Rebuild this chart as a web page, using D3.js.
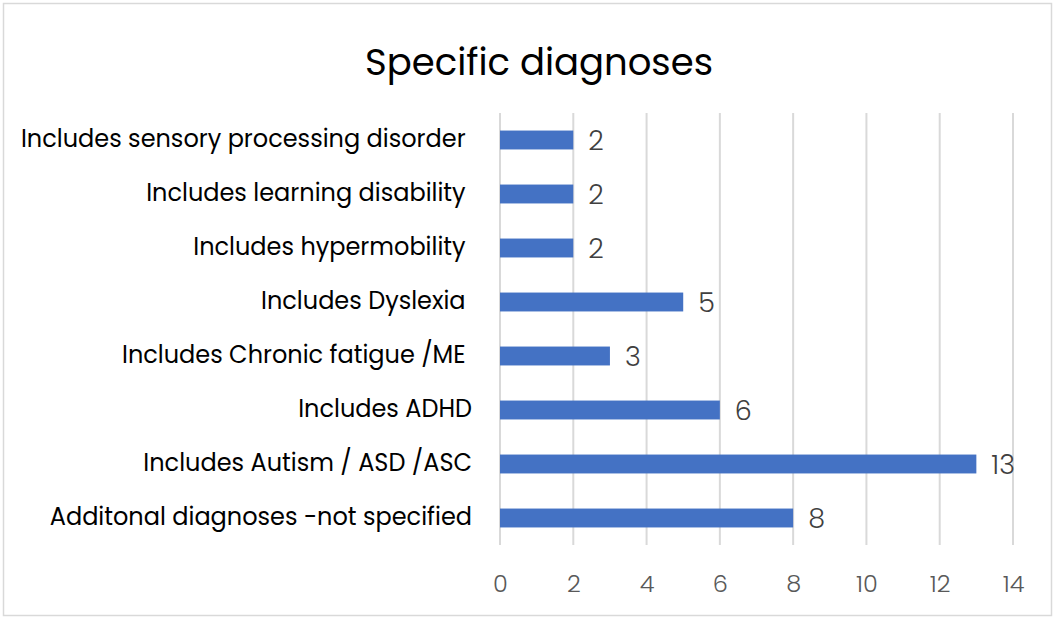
<!DOCTYPE html>
<html>
<head>
<meta charset="utf-8">
<script src="https://cdn.jsdelivr.net/npm/d3@7"></script>
<style>
  body { margin: 0; background: #fff; }
  text { font-family: "Poppins", "Noto Sans", sans-serif; white-space: pre; }
</style>
</head>
<body>
<script>
// chart data, top to bottom (some source labels carry a trailing space)
var categories = [
    "Includes sensory processing disorder ",
    "Includes learning disability ",
    "Includes hypermobility ",
    "Includes Dyslexia ",
    "Includes Chronic fatigue /ME ",
    "Includes ADHD",
    "Includes Autism / ASD /ASC",
    "Additonal diagnoses -not specified"
];
var counts = [2, 2, 2, 5, 3, 6, 13, 8];
var xTicks = [0, 2, 4, 6, 8, 10, 12, 14];
var title = "Specific diagnoses";

var width = 1054, height = 618;
var margin = { top: 113, right: 41, bottom: 73, left: 500 };

var data = categories.map((c, i) => ({ name: c, value: counts[i] }));

var svg = d3.select("body").append("svg")
    .attr("width", width)
    .attr("height", height);

// outer frame
svg.append("rect")
    .attr("x", 3.5).attr("y", 3.5)
    .attr("width", 1048).attr("height", 612)
    .attr("fill", "#fff")
    .attr("stroke", "#d9d9d9")
    .attr("stroke-width", 1.5);

var x = d3.scaleLinear()
    .domain([0, 14])
    .range([margin.left, width - margin.right]);

var y = d3.scaleBand()
    .domain(categories)
    .range([margin.top, height - margin.bottom])
    .paddingInner(0.65)
    .paddingOuter(0.325);

// grid
svg.append("g")
    .selectAll("line")
    .data(xTicks)
    .join("line")
    .attr("x1", d => x(d)).attr("x2", d => x(d))
    .attr("y1", margin.top).attr("y2", height - margin.bottom)
    .attr("stroke", "#d9d9d9")
    .attr("stroke-width", 2);

// x axis
var xAxis = svg.append("g")
    .attr("transform", `translate(0,${height - margin.bottom})`)
    .call(d3.axisBottom(x).tickValues(xTicks).tickSize(0).tickPadding(30));
xAxis.select(".domain").remove();
xAxis.selectAll("text")
    .attr("fill", "#595959")
    .attr("font-size", 24)
    .attr("font-weight", 300)
    .style("font-family", "\"Poppins\", \"Noto Sans\", sans-serif");

// y axis labels
var yAxis = svg.append("g")
    .attr("transform", `translate(${margin.left},0)`)
    .call(d3.axisLeft(y).tickSize(0).tickPadding(28));
yAxis.select(".domain").remove();
yAxis.selectAll("text")
    .attr("fill", "#000")
    .attr("font-size", 24)
    .attr("dy", "0.3em")
    .style("font-family", "\"Poppins\", \"Noto Sans\", sans-serif");

// bars
svg.append("g")
    .selectAll("rect")
    .data(data)
    .join("rect")
    .attr("x", x(0))
    .attr("y", d => y(d.name))
    .attr("width", d => x(d.value) - x(0))
    .attr("height", y.bandwidth())
    .attr("fill", "#4472c4");

// value labels
svg.append("g")
    .selectAll("text")
    .data(data)
    .join("text")
    .attr("x", d => x(d.value) + 15)
    .attr("y", d => y(d.name) + y.bandwidth() / 2)
    .attr("dy", "0.38em")
    .attr("font-size", 27)
    .attr("font-weight", 300)
    .attr("fill", "#404040")
    .text(d => d.value);

// title
svg.append("text")
    .attr("x", 539)
    .attr("y", 75)
    .attr("text-anchor", "middle")
    .attr("font-size", 37)
    .attr("fill", "#000")
    .text(title);
</script>
</body>
</html>
